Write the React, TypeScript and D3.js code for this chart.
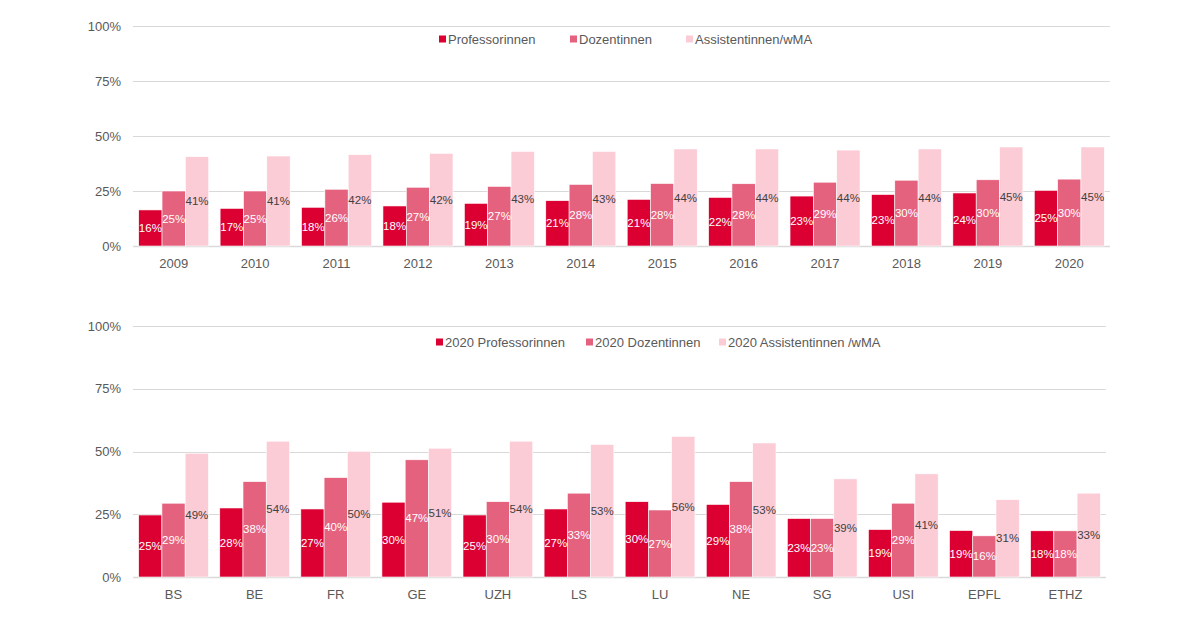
import * as d3 from "d3";
import React, { useEffect, useRef } from "react";

// --- data ---
const years = ["2009", "2010", "2011", "2012", "2013", "2014", "2015", "2016", "2017", "2018", "2019", "2020"];
const profByYear = [16.4, 17.1, 17.6, 18.2, 19.4, 20.6, 21.2, 22.1, 22.7, 23.4, 24.1, 25.3];
const dozByYear = [25.0, 25.0, 25.8, 26.7, 27.1, 28.0, 28.4, 28.3, 29.0, 29.9, 30.1, 30.4];
const assistByYear = [40.6, 40.9, 41.5, 42.1, 43.0, 43.0, 44.1, 44.1, 43.6, 44.1, 45.0, 45.0];

const unis = ["BS", "BE", "FR", "GE", "UZH", "LS", "LU", "NE", "SG", "USI", "EPFL", "ETHZ"];
const prof2020 = [24.7, 27.5, 27.1, 29.8, 24.7, 27.1, 30.0, 28.9, 23.3, 18.9, 18.5, 18.4];
const doz2020 = [29.4, 38.0, 39.6, 46.7, 30.0, 33.4, 26.7, 38.0, 23.3, 29.4, 16.4, 18.4];
const assist2020 = [49.3, 54.1, 50.1, 51.3, 54.1, 52.8, 56.0, 53.4, 39.1, 41.1, 30.8, 33.4];

const topSeries = ["Professorinnen", "Dozentinnen", "Assistentinnen/wMA"];
const bottomSeries = ["2020 Professorinnen", "2020 Dozentinnen", "2020 Assistentinnen /wMA"];
const yTicks = [0, 25, 50, 75, 100];

const COLORS = ["#dc0032", "#e5627f", "#fbcbd6"];
const LABEL_COLORS = ["#ffffff", "#ffffff", "#404040"];
const TEXT = "#595959";
const GRID = "#d9d9d9";
const FONT = "'Liberation Sans', Arial, sans-serif";

type Panel = {
  cats: string[];
  values: number[][];
  names: string[];
  x0: number;
  x1: number;
  yTop: number;
  yBottom: number;
  legendY: number;
  legendX: number[];
};

function drawPanel(g: d3.Selection<SVGGElement, unknown, null, undefined>, p: Panel) {
  const x = d3.scaleBand<string>().domain(p.cats).range([p.x0, p.x1]).paddingInner(0.14).paddingOuter(0.07);
  const xs = d3.scaleBand<number>().domain(d3.range(p.values.length)).range([0, x.bandwidth()]);
  const y = d3.scaleLinear().domain([0, 100]).range([p.yBottom, p.yTop]);

  // gridlines
  g.append("g")
    .selectAll("line")
    .data(yTicks)
    .join("line")
    .attr("x1", p.x0)
    .attr("x2", p.x1)
    .attr("y1", (d) => Math.round(y(d)) + 0.5)
    .attr("y2", (d) => Math.round(y(d)) + 0.5)
    .attr("stroke", GRID)
    .attr("stroke-width", (d) => (d === 0 ? 1.5 : 1));

  // y labels
  g.append("g")
    .selectAll("text")
    .data(yTicks)
    .join("text")
    .attr("x", 121)
    .attr("y", (d) => y(d))
    .attr("dy", "0.35em")
    .attr("text-anchor", "end")
    .attr("fill", TEXT)
    .attr("font-size", 13)
    .text((d) => `${d}%`);

  // x labels
  g.append("g")
    .selectAll("text")
    .data(p.cats)
    .join("text")
    .attr("x", (d) => (x(d) ?? 0) + x.bandwidth() / 2)
    .attr("y", p.yBottom + 17)
    .attr("dy", "0.35em")
    .attr("text-anchor", "middle")
    .attr("fill", TEXT)
    .attr("font-size", 13)
    .text((d) => d);

  // bars + labels
  p.values.forEach((vals, si) => {
    const s = g.append("g");
    s.selectAll("rect")
      .data(vals)
      .join("rect")
      .attr("x", (_, i) => (x(p.cats[i]) ?? 0) + (xs(si) ?? 0))
      .attr("y", (d) => y(d))
      .attr("width", xs.bandwidth())
      .attr("height", (d) => y(0) - y(d))
      .attr("fill", COLORS[si])
      .attr("stroke", "#ffffff")
      .attr("stroke-width", 0.6);
    s.selectAll("text")
      .data(vals)
      .join("text")
      .attr("x", (_, i) => (x(p.cats[i]) ?? 0) + (xs(si) ?? 0) + xs.bandwidth() / 2)
      .attr("y", (d) => (y(d) + y(0)) / 2)
      .attr("dy", "0.35em")
      .attr("text-anchor", "middle")
      .attr("fill", LABEL_COLORS[si])
      .attr("font-size", 11.5)
      .text((d) => `${Math.round(d)}%`);
  });

  // legend
  const leg = g.append("g");
  p.names.forEach((name, i) => {
    leg.append("rect")
      .attr("x", p.legendX[i])
      .attr("y", p.legendY - 3.5)
      .attr("width", 7)
      .attr("height", 7)
      .attr("fill", COLORS[i]);
    leg.append("text")
      .attr("x", p.legendX[i] + 9)
      .attr("y", p.legendY)
      .attr("dy", "0.35em")
      .attr("fill", TEXT)
      .attr("font-size", 13)
      .text(name);
  });
}

export default function App() {
  const svgRef = useRef<SVGSVGElement | null>(null);

  useEffect(() => {
    const svg = d3.select(svgRef.current);
    svg.selectAll("*").remove();
    const root = svg.append("g").attr("font-family", FONT);

    drawPanel(root.append("g"), {
      cats: years,
      values: [profByYear, dozByYear, assistByYear],
      names: topSeries,
      x0: 133,
      x1: 1110,
      yTop: 26,
      yBottom: 246,
      legendY: 39,
      legendX: [439, 570, 686],
    });

    drawPanel(root.append("g"), {
      cats: unis,
      values: [prof2020, doz2020, assist2020],
      names: bottomSeries,
      x0: 133,
      x1: 1106,
      yTop: 326,
      yBottom: 577,
      legendY: 342,
      legendX: [436, 586, 719],
    });
  }, []);

  return (
    <div style={{ position: "absolute", left: 0, top: 0, width: 1200, height: 642, background: "#fff" }}>
      <svg ref={svgRef} width={1200} height={642} style={{ display: "block" }} />
    </div>
  );
}
